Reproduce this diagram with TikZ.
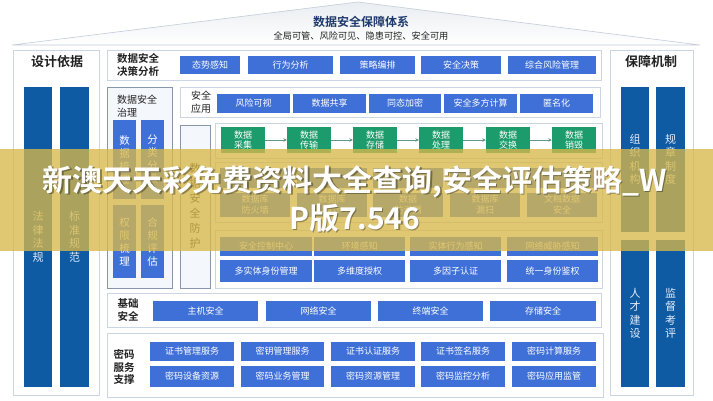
\documentclass[tikz,border=0pt]{standalone}
\usepackage{fontspec}
\setmainfont{Noto Sans CJK SC}[BoldFont={Noto Sans CJK SC Bold}]
\usetikzlibrary{arrows.meta}
\definecolor{bblue}{HTML}{3F70D8}
\definecolor{dblue}{HTML}{0E5AA3}
\definecolor{gbox}{HTML}{1C9C6C}
\definecolor{pline}{HTML}{CCD6E2}
\definecolor{dline}{HTML}{8796AB}
\definecolor{pfill}{HTML}{F4F7FB}
\definecolor{labc}{HTML}{222222}
\definecolor{navy}{HTML}{1F3A6E}
\definecolor{arrc}{HTML}{5E9A84}
\definecolor{bartxt}{HTML}{E4ECF8}
\definecolor{bannerc}{HTML}{D8B84A}
\definecolor{roofl}{HTML}{C3CCD8}
\newcommand\bx[7]{\node[#1,minimum width={(#5-#3)*1pt},minimum height={(#6-#4)*1pt}] (#2) at ({(#3+#5)/2},{(#4+#6)/2}) {#7};}
\tikzset{
  btn/.style={fill=bblue, text=white, inner sep=0pt, font=\fontsize{9}{11}\selectfont, align=center},
  grn/.style={fill=gbox, text=white, inner sep=0pt, font=\fontsize{9}{10.5}\selectfont, align=center},
  panel/.style={draw=pline, fill=white, line width=0.8pt, inner sep=0pt},
  dpanel/.style={draw=dline, fill=pfill, line width=0.8pt, inner sep=0pt},
  bar/.style={fill=dblue, text=bartxt, inner sep=0pt, font=\fontsize{11}{13.5}\selectfont, align=center},
  lbl/.style={font=\bfseries\fontsize{10.5}{12.5}\selectfont, align=left, text=labc, inner sep=0pt},
  ttl/.style={font=\bfseries\fontsize{13}{15}\selectfont, text=labc, inner sep=0pt},
  arr/.style={-{Stealth[length=3.5pt,width=3.5pt]}, draw=arrc, line width=0.6pt},
}
\begin{document}
\begin{tikzpicture}[x=1pt,y=-1pt]
\useasboundingbox (0,0) rectangle (713,400);
\fill[white] (0,0) rectangle (713,400);
% roof
\shade[top color=roofl!35, bottom color=white, draw=roofl, line width=0.6pt] (12,45) -- (358,2) -- (700,45) -- cycle;
\node[font=\bfseries\fontsize{12}{14}\selectfont, text=navy] (title) at (361,22) {数据安全保障体系};
\node[font=\fontsize{9.2}{11}\selectfont, text=labc] (sub) at (361,36) {全局可管、风险可见、隐患可控、安全可用};
% left column
\bx{panel}{leftp}{13}{50}{99}{395}{}
\node[ttl] (lt) at (57,62) {设计依据};
\bx{bar}{lb1}{24}{87}{52}{387}{法\\律\\法\\规}
\bx{bar}{lb2}{60}{87}{89}{387}{标\\准\\规\\范}
% right column
\bx{panel}{rightp}{610}{50}{693}{395}{}
\node[ttl] (rt) at (651,62) {保障机制};
\bx{bar}{rb1}{621}{87}{649}{232}{组\\织\\机\\构}
\bx{bar}{rb2}{656}{87}{685}{232}{规\\章\\制\\度}
\bx{bar}{rb3}{621}{240}{649}{387}{人\\才\\建\\设}
\bx{bar}{rb4}{656}{240}{685}{387}{监\\督\\考\\评}
% decision row
\bx{panel}{decp}{107}{50}{601}{80}{}
\node[lbl, anchor=west] (decl) at (117,65) {数据安全\\决策分析};
\bx{btn}{d1}{180}{56}{240}{74}{态势感知}
\bx{btn}{d2}{248}{56}{333}{74}{行为分析}
\bx{btn}{d3}{340}{56}{415}{74}{策略编排}
\bx{btn}{d4}{421}{56}{501}{74}{安全决策}
\bx{btn}{d5}{508}{56}{596}{74}{综合风险管理}
% governance
\bx{dpanel}{govp}{107}{87}{172}{288}{}
\node[lbl, anchor=west, font=\fontsize{10}{12.5}\selectfont] (govl) at (117,106) {数据安全\\治理};
\bx{bar, fill=bblue, text=white, font=\fontsize{10.5}{13}\selectfont}{g1}{113}{120}{136}{199}{数\\据\\梳\\理}
\bx{bar, fill=bblue, text=white, font=\fontsize{10.5}{13}\selectfont}{g2}{141}{120}{164}{199}{分\\类\\分\\级}
\bx{bar, fill=bblue, text=white, font=\fontsize{10.5}{13}\selectfont}{g3}{113}{205}{136}{278}{权\\限\\梳\\理}
\bx{bar, fill=bblue, text=white, font=\fontsize{10.5}{13}\selectfont}{g4}{141}{205}{164}{278}{合\\规\\评\\估}
% application row
\bx{panel}{appp}{180}{87}{600}{117}{}
\node[lbl, font=\fontsize{10}{12.5}\selectfont, align=center] (appl) at (201,102) {安全\\应用};
\bx{btn}{a1}{217}{94}{290}{113}{风险可视}
\bx{btn}{a2}{293}{94}{366}{113}{数据共享}
\bx{btn}{a3}{369}{94}{441}{113}{同态加密}
\bx{btn}{a4}{444}{94}{517}{113}{安全多方计算}
\bx{btn}{a5}{520}{94}{593}{113}{匿名化}
% protection column
\bx{dpanel}{protp}{180}{125}{210}{288}{}
\node[font=\fontsize{11}{15}\selectfont, align=center, text=labc] (protl) at (195,206) {数\\据\\安\\全\\防\\护};
% lifecycle
\bx{panel}{lifep}{215}{123}{602}{158}{}
\bx{grn}{l1}{221}{127}{265}{153}{数据\\采集}
\bx{grn}{l2}{287}{127}{331}{153}{数据\\传输}
\bx{grn}{l3}{353}{127}{397}{153}{数据\\存储}
\bx{grn}{l4}{419}{127}{463}{153}{数据\\处理}
\bx{grn}{l5}{486}{127}{530}{153}{数据\\交换}
\bx{grn}{l6}{552}{127}{596}{153}{数据\\销毁}
\draw[arr] (l1) -- (l2);
\draw[arr] (l2) -- (l3);
\draw[arr] (l3) -- (l4);
\draw[arr] (l4) -- (l5);
\draw[arr] (l5) -- (l6);
% db protection
\bx{panel}{dbp}{215}{162}{602}{222}{}
\bx{btn}{r1}{220}{168}{290}{188}{}
\bx{btn}{r2}{297}{168}{367}{188}{}
\bx{btn}{r3}{373}{168}{443}{188}{}
\bx{btn}{r4}{450}{168}{520}{188}{}
\bx{btn}{r5}{527}{168}{597}{188}{}
\bx{btn}{s1}{220}{193}{290}{217}{数据库\\防火墙}
\bx{btn}{s2}{297}{193}{367}{217}{数据库\\审计}
\bx{btn}{s3}{373}{193}{443}{217}{数据\\防泄漏}
\bx{btn}{s4}{450}{193}{520}{217}{数据库\\漏扫}
\bx{btn}{s5}{527}{193}{597}{217}{文档数据\\安全}
% control / identity
\bx{panel}{ctlp}{215}{230}{602}{288}{}
\bx{btn}{c1}{220}{237}{312}{256}{安全控制中心}
\bx{btn}{c2}{314}{237}{405}{256}{环境感知}
\bx{btn}{c3}{410}{237}{501}{256}{实体行为感知}
\bx{btn}{c4}{507}{237}{598}{256}{网络威胁感知}
\bx{btn}{i1}{220}{260}{312}{282}{多实体身份管理}
\bx{btn}{i2}{314}{260}{405}{282}{多维度授权}
\bx{btn}{i3}{410}{260}{501}{282}{多因子认证}
\bx{btn}{i4}{507}{260}{598}{282}{统一身份鉴权}
% base security
\bx{panel}{basep}{107}{293}{601}{327}{}
\node[lbl, align=center] (basel) at (128,310) {基础\\安全};
\bx{btn}{b1}{153}{301}{258}{321}{主机安全}
\bx{btn}{b2}{266}{301}{371}{321}{网络安全}
\bx{btn}{b3}{378}{301}{483}{321}{终端安全}
\bx{btn}{b4}{490}{301}{596}{321}{存储安全}
% crypto
\bx{panel}{cryp}{107}{333}{603}{397}{}
\node[lbl, align=center] (cryl) at (124,367) {密码\\服务\\支撑};
\bx{btn}{k1}{150}{342}{234}{361}{证书管理服务}
\bx{btn}{k2}{241}{342}{324}{361}{密钥管理服务}
\bx{btn}{k3}{331}{342}{415}{361}{证书认证服务}
\bx{btn}{k4}{421}{342}{505}{361}{证书签名服务}
\bx{btn}{k5}{512}{342}{596}{361}{密码计算服务}
\bx{btn}{m1}{150}{366}{234}{387}{密码设备资源}
\bx{btn}{m2}{241}{366}{324}{387}{密码业务管理}
\bx{btn}{m3}{331}{366}{415}{387}{密码资源管理}
\bx{btn}{m4}{421}{366}{505}{387}{密码监控分析}
\bx{btn}{m5}{512}{366}{596}{387}{密码应用监管}
% banner
\fill[bannerc, opacity=0.78] (0,149) rectangle (713,251);
\node[font=\bfseries\fontsize{30}{38}\selectfont, text=black, opacity=0.35, align=center] (bshadow) at (356.2,200.2) {新澳天天彩免费资料大全查询,安全评估策略\_W\\P版7.546};
\node[font=\bfseries\fontsize{30}{38}\selectfont, text=white, align=center] (btext) at (355,199) {新澳天天彩免费资料大全查询,安全评估策略\_W\\P版7.546};
\end{tikzpicture}
\end{document}
